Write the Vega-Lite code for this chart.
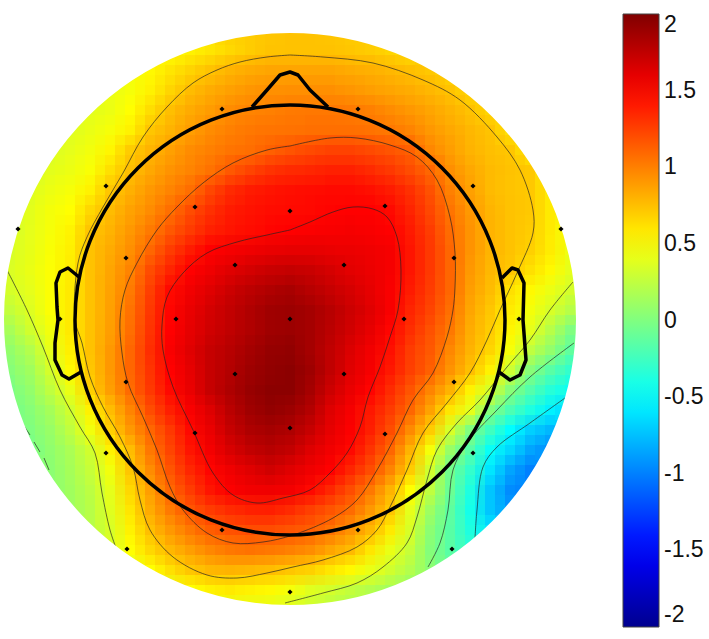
{"$schema":"https://vega.github.io/schema/vega-lite/v6.json","width":709,"height":639,"padding":0,"autosize":{"type":"none"},"background":"white","view":{"stroke":null},
"datasets":{
"cells":[
{"x":230,"y":30,"v":0.68},{"x":250,"y":30,"v":0.7},{"x":270,"y":30,"v":0.72},{"x":290,"y":30,"v":0.73},{"x":310,"y":30,"v":0.73},{"x":330,"y":30,"v":0.72},{"x":350,"y":30,"v":0.7},
{"x":170,"y":50,"v":0.5},{"x":190,"y":50,"v":0.55},{"x":210,"y":50,"v":0.6},{"x":230,"y":50,"v":0.65},{"x":250,"y":50,"v":0.7},{"x":270,"y":50,"v":0.73},{"x":290,"y":50,"v":0.74},{"x":310,"y":50,"v":0.74},{"x":330,"y":50,"v":0.74},{"x":350,"y":50,"v":0.72},{"x":370,"y":50,"v":0.7},{"x":390,"y":50,"v":0.66},{"x":410,"y":50,"v":0.62},
{"x":130,"y":70,"v":0.46},{"x":150,"y":70,"v":0.52},{"x":170,"y":70,"v":0.6},{"x":190,"y":70,"v":0.67},{"x":210,"y":70,"v":0.73},{"x":230,"y":70,"v":0.79},{"x":250,"y":70,"v":0.83},{"x":270,"y":70,"v":0.85},{"x":290,"y":70,"v":0.85},{"x":310,"y":70,"v":0.85},{"x":330,"y":70,"v":0.85},{"x":350,"y":70,"v":0.83},{"x":370,"y":70,"v":0.81},{"x":390,"y":70,"v":0.78},{"x":410,"y":70,"v":0.75},{"x":430,"y":70,"v":0.71},{"x":450,"y":70,"v":0.66},
{"x":110,"y":90,"v":0.42},{"x":130,"y":90,"v":0.47},{"x":150,"y":90,"v":0.55},{"x":170,"y":90,"v":0.66},{"x":190,"y":90,"v":0.76},{"x":210,"y":90,"v":0.82},{"x":230,"y":90,"v":0.87},{"x":250,"y":90,"v":0.91},{"x":270,"y":90,"v":0.93},{"x":290,"y":90,"v":0.94},{"x":310,"y":90,"v":0.94},{"x":330,"y":90,"v":0.94},{"x":350,"y":90,"v":0.91},{"x":370,"y":90,"v":0.88},{"x":390,"y":90,"v":0.85},{"x":410,"y":90,"v":0.82},{"x":430,"y":90,"v":0.78},{"x":450,"y":90,"v":0.73},{"x":470,"y":90,"v":0.66},
{"x":90,"y":110,"v":0.39},{"x":110,"y":110,"v":0.43},{"x":130,"y":110,"v":0.5},{"x":150,"y":110,"v":0.63},{"x":170,"y":110,"v":0.75},{"x":190,"y":110,"v":0.83},{"x":210,"y":110,"v":0.89},{"x":230,"y":110,"v":0.95},{"x":250,"y":110,"v":0.98},{"x":270,"y":110,"v":1},{"x":290,"y":110,"v":1.02},{"x":310,"y":110,"v":1.03},{"x":330,"y":110,"v":1.03},{"x":350,"y":110,"v":1.02},{"x":370,"y":110,"v":1},{"x":390,"y":110,"v":0.95},{"x":410,"y":110,"v":0.9},{"x":430,"y":110,"v":0.85},{"x":450,"y":110,"v":0.8},{"x":470,"y":110,"v":0.74},{"x":490,"y":110,"v":0.66},
{"x":70,"y":130,"v":0.38},{"x":90,"y":130,"v":0.42},{"x":110,"y":130,"v":0.47},{"x":130,"y":130,"v":0.55},{"x":150,"y":130,"v":0.72},{"x":170,"y":130,"v":0.8},{"x":190,"y":130,"v":0.88},{"x":210,"y":130,"v":0.95},{"x":230,"y":130,"v":1},{"x":250,"y":130,"v":1.03},{"x":270,"y":130,"v":1.04},{"x":290,"y":130,"v":1.05},{"x":310,"y":130,"v":1.06},{"x":330,"y":130,"v":1.06},{"x":350,"y":130,"v":1.06},{"x":370,"y":130,"v":1.05},{"x":390,"y":130,"v":1.03},{"x":410,"y":130,"v":0.98},{"x":430,"y":130,"v":0.9},{"x":450,"y":130,"v":0.84},{"x":470,"y":130,"v":0.78},{"x":490,"y":130,"v":0.73},{"x":510,"y":130,"v":0.62},
{"x":50,"y":150,"v":0.36},{"x":70,"y":150,"v":0.4},{"x":90,"y":150,"v":0.45},{"x":110,"y":150,"v":0.53},{"x":130,"y":150,"v":0.7},{"x":150,"y":150,"v":0.79},{"x":170,"y":150,"v":0.87},{"x":190,"y":150,"v":0.95},{"x":210,"y":150,"v":1},{"x":230,"y":150,"v":1.04},{"x":250,"y":150,"v":1.07},{"x":270,"y":150,"v":1.12},{"x":290,"y":150,"v":1.17},{"x":310,"y":150,"v":1.21},{"x":330,"y":150,"v":1.24},{"x":350,"y":150,"v":1.24},{"x":370,"y":150,"v":1.21},{"x":390,"y":150,"v":1.17},{"x":410,"y":150,"v":1.12},{"x":430,"y":150,"v":0.97},{"x":450,"y":150,"v":0.88},{"x":470,"y":150,"v":0.8},{"x":490,"y":150,"v":0.75},{"x":510,"y":150,"v":0.72},{"x":530,"y":150,"v":0.6},
{"x":30,"y":170,"v":0.34},{"x":50,"y":170,"v":0.39},{"x":70,"y":170,"v":0.43},{"x":90,"y":170,"v":0.48},{"x":110,"y":170,"v":0.62},{"x":130,"y":170,"v":0.75},{"x":150,"y":170,"v":0.84},{"x":170,"y":170,"v":0.92},{"x":190,"y":170,"v":0.98},{"x":210,"y":170,"v":1.05},{"x":230,"y":170,"v":1.15},{"x":250,"y":170,"v":1.23},{"x":270,"y":170,"v":1.3},{"x":290,"y":170,"v":1.33},{"x":310,"y":170,"v":1.35},{"x":330,"y":170,"v":1.37},{"x":350,"y":170,"v":1.37},{"x":370,"y":170,"v":1.33},{"x":390,"y":170,"v":1.28},{"x":410,"y":170,"v":1.2},{"x":430,"y":170,"v":1.1},{"x":450,"y":170,"v":0.94},{"x":470,"y":170,"v":0.84},{"x":490,"y":170,"v":0.77},{"x":510,"y":170,"v":0.74},{"x":530,"y":170,"v":0.71},{"x":550,"y":170,"v":0.56},
{"x":30,"y":190,"v":0.37},{"x":50,"y":190,"v":0.43},{"x":70,"y":190,"v":0.47},{"x":90,"y":190,"v":0.55},{"x":110,"y":190,"v":0.72},{"x":130,"y":190,"v":0.81},{"x":150,"y":190,"v":0.9},{"x":170,"y":190,"v":0.98},{"x":190,"y":190,"v":1.07},{"x":210,"y":190,"v":1.22},{"x":230,"y":190,"v":1.33},{"x":250,"y":190,"v":1.39},{"x":270,"y":190,"v":1.42},{"x":290,"y":190,"v":1.44},{"x":310,"y":190,"v":1.45},{"x":330,"y":190,"v":1.46},{"x":350,"y":190,"v":1.46},{"x":370,"y":190,"v":1.44},{"x":390,"y":190,"v":1.39},{"x":410,"y":190,"v":1.31},{"x":430,"y":190,"v":1.18},{"x":450,"y":190,"v":1},{"x":470,"y":190,"v":0.87},{"x":490,"y":190,"v":0.77},{"x":510,"y":190,"v":0.73},{"x":530,"y":190,"v":0.71},{"x":550,"y":190,"v":0.58},
{"x":30,"y":210,"v":0.39},{"x":50,"y":210,"v":0.46},{"x":70,"y":210,"v":0.5},{"x":90,"y":210,"v":0.65},{"x":110,"y":210,"v":0.76},{"x":130,"y":210,"v":0.86},{"x":150,"y":210,"v":0.95},{"x":170,"y":210,"v":1.06},{"x":190,"y":210,"v":1.2},{"x":210,"y":210,"v":1.31},{"x":230,"y":210,"v":1.39},{"x":250,"y":210,"v":1.43},{"x":270,"y":210,"v":1.45},{"x":290,"y":210,"v":1.46},{"x":310,"y":210,"v":1.47},{"x":330,"y":210,"v":1.49},{"x":350,"y":210,"v":1.5},{"x":370,"y":210,"v":1.5},{"x":390,"y":210,"v":1.46},{"x":410,"y":210,"v":1.36},{"x":430,"y":210,"v":1.22},{"x":450,"y":210,"v":1.04},{"x":470,"y":210,"v":0.9},{"x":490,"y":210,"v":0.79},{"x":510,"y":210,"v":0.74},{"x":530,"y":210,"v":0.71},{"x":550,"y":210,"v":0.58},
{"x":10,"y":230,"v":0.33},{"x":30,"y":230,"v":0.4},{"x":50,"y":230,"v":0.47},{"x":70,"y":230,"v":0.54},{"x":90,"y":230,"v":0.72},{"x":110,"y":230,"v":0.8},{"x":130,"y":230,"v":0.9},{"x":150,"y":230,"v":1.02},{"x":170,"y":230,"v":1.15},{"x":190,"y":230,"v":1.27},{"x":210,"y":230,"v":1.37},{"x":230,"y":230,"v":1.42},{"x":250,"y":230,"v":1.45},{"x":270,"y":230,"v":1.48},{"x":290,"y":230,"v":1.5},{"x":310,"y":230,"v":1.51},{"x":330,"y":230,"v":1.52},{"x":350,"y":230,"v":1.53},{"x":370,"y":230,"v":1.52},{"x":390,"y":230,"v":1.5},{"x":410,"y":230,"v":1.4},{"x":430,"y":230,"v":1.26},{"x":450,"y":230,"v":1.08},{"x":470,"y":230,"v":0.92},{"x":490,"y":230,"v":0.8},{"x":510,"y":230,"v":0.74},{"x":530,"y":230,"v":0.7},{"x":550,"y":230,"v":0.58},{"x":570,"y":230,"v":0.46},
{"x":10,"y":250,"v":0.35},{"x":30,"y":250,"v":0.41},{"x":50,"y":250,"v":0.48},{"x":70,"y":250,"v":0.56},{"x":90,"y":250,"v":0.74},{"x":110,"y":250,"v":0.83},{"x":130,"y":250,"v":0.94},{"x":150,"y":250,"v":1.1},{"x":170,"y":250,"v":1.26},{"x":190,"y":250,"v":1.39},{"x":210,"y":250,"v":1.5},{"x":230,"y":250,"v":1.53},{"x":250,"y":250,"v":1.56},{"x":270,"y":250,"v":1.58},{"x":290,"y":250,"v":1.59},{"x":310,"y":250,"v":1.59},{"x":330,"y":250,"v":1.58},{"x":350,"y":250,"v":1.57},{"x":370,"y":250,"v":1.56},{"x":390,"y":250,"v":1.53},{"x":410,"y":250,"v":1.42},{"x":430,"y":250,"v":1.28},{"x":450,"y":250,"v":1.1},{"x":470,"y":250,"v":0.92},{"x":490,"y":250,"v":0.8},{"x":510,"y":250,"v":0.74},{"x":530,"y":250,"v":0.68},{"x":550,"y":250,"v":0.57},{"x":570,"y":250,"v":0.44},
{"x":10,"y":270,"v":0.36},{"x":30,"y":270,"v":0.42},{"x":50,"y":270,"v":0.49},{"x":70,"y":270,"v":0.57},{"x":90,"y":270,"v":0.74},{"x":110,"y":270,"v":0.85},{"x":130,"y":270,"v":0.98},{"x":150,"y":270,"v":1.2},{"x":170,"y":270,"v":1.36},{"x":190,"y":270,"v":1.5},{"x":210,"y":270,"v":1.56},{"x":230,"y":270,"v":1.62},{"x":250,"y":270,"v":1.67},{"x":270,"y":270,"v":1.71},{"x":290,"y":270,"v":1.73},{"x":310,"y":270,"v":1.71},{"x":330,"y":270,"v":1.66},{"x":350,"y":270,"v":1.61},{"x":370,"y":270,"v":1.57},{"x":390,"y":270,"v":1.53},{"x":410,"y":270,"v":1.42},{"x":430,"y":270,"v":1.28},{"x":450,"y":270,"v":1.1},{"x":470,"y":270,"v":0.9},{"x":490,"y":270,"v":0.78},{"x":510,"y":270,"v":0.72},{"x":530,"y":270,"v":0.62},{"x":550,"y":270,"v":0.52},{"x":570,"y":270,"v":0.4},
{"x":10,"y":290,"v":0.34},{"x":30,"y":290,"v":0.4},{"x":50,"y":290,"v":0.49},{"x":70,"y":290,"v":0.58},{"x":90,"y":290,"v":0.74},{"x":110,"y":290,"v":0.86},{"x":130,"y":290,"v":1.02},{"x":150,"y":290,"v":1.25},{"x":170,"y":290,"v":1.46},{"x":190,"y":290,"v":1.55},{"x":210,"y":290,"v":1.62},{"x":230,"y":290,"v":1.7},{"x":250,"y":290,"v":1.76},{"x":270,"y":290,"v":1.81},{"x":290,"y":290,"v":1.84},{"x":310,"y":290,"v":1.78},{"x":330,"y":290,"v":1.72},{"x":350,"y":290,"v":1.66},{"x":370,"y":290,"v":1.6},{"x":390,"y":290,"v":1.52},{"x":410,"y":290,"v":1.4},{"x":430,"y":290,"v":1.26},{"x":450,"y":290,"v":1.1},{"x":470,"y":290,"v":0.88},{"x":490,"y":290,"v":0.76},{"x":510,"y":290,"v":0.62},{"x":530,"y":290,"v":0.52},{"x":550,"y":290,"v":0.43},{"x":570,"y":290,"v":0.33},
{"x":10,"y":310,"v":0.27},{"x":30,"y":310,"v":0.37},{"x":50,"y":310,"v":0.49},{"x":70,"y":310,"v":0.58},{"x":90,"y":310,"v":0.74},{"x":110,"y":310,"v":0.87},{"x":130,"y":310,"v":1.05},{"x":150,"y":310,"v":1.28},{"x":170,"y":310,"v":1.48},{"x":190,"y":310,"v":1.58},{"x":210,"y":310,"v":1.67},{"x":230,"y":310,"v":1.74},{"x":250,"y":310,"v":1.81},{"x":270,"y":310,"v":1.87},{"x":290,"y":310,"v":1.89},{"x":310,"y":310,"v":1.85},{"x":330,"y":310,"v":1.78},{"x":350,"y":310,"v":1.7},{"x":370,"y":310,"v":1.62},{"x":390,"y":310,"v":1.52},{"x":410,"y":310,"v":1.36},{"x":430,"y":310,"v":1.23},{"x":450,"y":310,"v":1.07},{"x":470,"y":310,"v":0.85},{"x":490,"y":310,"v":0.72},{"x":510,"y":310,"v":0.57},{"x":530,"y":310,"v":0.46},{"x":550,"y":310,"v":0.35},{"x":570,"y":310,"v":0.22},
{"x":10,"y":330,"v":0.16},{"x":30,"y":330,"v":0.32},{"x":50,"y":330,"v":0.45},{"x":70,"y":330,"v":0.58},{"x":90,"y":330,"v":0.74},{"x":110,"y":330,"v":0.88},{"x":130,"y":330,"v":1.07},{"x":150,"y":330,"v":1.3},{"x":170,"y":330,"v":1.5},{"x":190,"y":330,"v":1.6},{"x":210,"y":330,"v":1.68},{"x":230,"y":330,"v":1.75},{"x":250,"y":330,"v":1.81},{"x":270,"y":330,"v":1.87},{"x":290,"y":330,"v":1.89},{"x":310,"y":330,"v":1.85},{"x":330,"y":330,"v":1.77},{"x":350,"y":330,"v":1.68},{"x":370,"y":330,"v":1.59},{"x":390,"y":330,"v":1.48},{"x":410,"y":330,"v":1.32},{"x":430,"y":330,"v":1.18},{"x":450,"y":330,"v":1.03},{"x":470,"y":330,"v":0.82},{"x":490,"y":330,"v":0.7},{"x":510,"y":330,"v":0.53},{"x":530,"y":330,"v":0.4},{"x":550,"y":330,"v":0.22},{"x":570,"y":330,"v":0},
{"x":10,"y":350,"v":0.08},{"x":30,"y":350,"v":0.2},{"x":50,"y":350,"v":0.4},{"x":70,"y":350,"v":0.56},{"x":90,"y":350,"v":0.74},{"x":110,"y":350,"v":0.9},{"x":130,"y":350,"v":1.1},{"x":150,"y":350,"v":1.32},{"x":170,"y":350,"v":1.52},{"x":190,"y":350,"v":1.62},{"x":210,"y":350,"v":1.72},{"x":230,"y":350,"v":1.78},{"x":250,"y":350,"v":1.85},{"x":270,"y":350,"v":1.91},{"x":290,"y":350,"v":1.93},{"x":310,"y":350,"v":1.85},{"x":330,"y":350,"v":1.75},{"x":350,"y":350,"v":1.64},{"x":370,"y":350,"v":1.55},{"x":390,"y":350,"v":1.44},{"x":410,"y":350,"v":1.27},{"x":430,"y":350,"v":1.15},{"x":450,"y":350,"v":0.97},{"x":470,"y":350,"v":0.8},{"x":490,"y":350,"v":0.66},{"x":510,"y":350,"v":0.47},{"x":530,"y":350,"v":0.25},{"x":550,"y":350,"v":0.08},{"x":570,"y":350,"v":-0.12},
{"x":10,"y":370,"v":0.03},{"x":30,"y":370,"v":0.13},{"x":50,"y":370,"v":0.33},{"x":70,"y":370,"v":0.52},{"x":90,"y":370,"v":0.72},{"x":110,"y":370,"v":0.9},{"x":130,"y":370,"v":1.1},{"x":150,"y":370,"v":1.3},{"x":170,"y":370,"v":1.5},{"x":190,"y":370,"v":1.6},{"x":210,"y":370,"v":1.72},{"x":230,"y":370,"v":1.8},{"x":250,"y":370,"v":1.88},{"x":270,"y":370,"v":1.93},{"x":290,"y":370,"v":1.95},{"x":310,"y":370,"v":1.88},{"x":330,"y":370,"v":1.75},{"x":350,"y":370,"v":1.62},{"x":370,"y":370,"v":1.53},{"x":390,"y":370,"v":1.41},{"x":410,"y":370,"v":1.25},{"x":430,"y":370,"v":1.12},{"x":450,"y":370,"v":0.92},{"x":470,"y":370,"v":0.75},{"x":490,"y":370,"v":0.55},{"x":510,"y":370,"v":0.3},{"x":530,"y":370,"v":0.03},{"x":550,"y":370,"v":-0.15},{"x":570,"y":370,"v":-0.3},
{"x":10,"y":390,"v":-0.02},{"x":30,"y":390,"v":0.08},{"x":50,"y":390,"v":0.25},{"x":70,"y":390,"v":0.42},{"x":90,"y":390,"v":0.68},{"x":110,"y":390,"v":0.88},{"x":130,"y":390,"v":1.08},{"x":150,"y":390,"v":1.28},{"x":170,"y":390,"v":1.47},{"x":190,"y":390,"v":1.58},{"x":210,"y":390,"v":1.72},{"x":230,"y":390,"v":1.82},{"x":250,"y":390,"v":1.9},{"x":270,"y":390,"v":1.95},{"x":290,"y":390,"v":1.95},{"x":310,"y":390,"v":1.85},{"x":330,"y":390,"v":1.7},{"x":350,"y":390,"v":1.58},{"x":370,"y":390,"v":1.49},{"x":390,"y":390,"v":1.33},{"x":410,"y":390,"v":1.17},{"x":430,"y":390,"v":0.98},{"x":450,"y":390,"v":0.8},{"x":470,"y":390,"v":0.55},{"x":490,"y":390,"v":0.35},{"x":510,"y":390,"v":0.03},{"x":530,"y":390,"v":-0.17},{"x":550,"y":390,"v":-0.35},{"x":570,"y":390,"v":-0.45},
{"x":10,"y":410,"v":-0.05},{"x":30,"y":410,"v":0.03},{"x":50,"y":410,"v":0.15},{"x":70,"y":410,"v":0.32},{"x":90,"y":410,"v":0.55},{"x":110,"y":410,"v":0.76},{"x":130,"y":410,"v":0.98},{"x":150,"y":410,"v":1.2},{"x":170,"y":410,"v":1.38},{"x":190,"y":410,"v":1.52},{"x":210,"y":410,"v":1.63},{"x":230,"y":410,"v":1.77},{"x":250,"y":410,"v":1.87},{"x":270,"y":410,"v":1.92},{"x":290,"y":410,"v":1.89},{"x":310,"y":410,"v":1.8},{"x":330,"y":410,"v":1.63},{"x":350,"y":410,"v":1.53},{"x":370,"y":410,"v":1.41},{"x":390,"y":410,"v":1.27},{"x":410,"y":410,"v":1.1},{"x":430,"y":410,"v":0.86},{"x":450,"y":410,"v":0.6},{"x":470,"y":410,"v":0.4},{"x":490,"y":410,"v":0.02},{"x":510,"y":410,"v":-0.2},{"x":530,"y":410,"v":-0.38},{"x":550,"y":410,"v":-0.55},{"x":570,"y":410,"v":-0.65},
{"x":30,"y":430,"v":0},{"x":50,"y":430,"v":0.1},{"x":70,"y":430,"v":0.25},{"x":90,"y":430,"v":0.45},{"x":110,"y":430,"v":0.68},{"x":130,"y":430,"v":0.9},{"x":150,"y":430,"v":1.1},{"x":170,"y":430,"v":1.28},{"x":190,"y":430,"v":1.47},{"x":210,"y":430,"v":1.58},{"x":230,"y":430,"v":1.72},{"x":250,"y":430,"v":1.82},{"x":270,"y":430,"v":1.85},{"x":290,"y":430,"v":1.82},{"x":310,"y":430,"v":1.72},{"x":330,"y":430,"v":1.6},{"x":350,"y":430,"v":1.51},{"x":370,"y":430,"v":1.38},{"x":390,"y":430,"v":1.2},{"x":410,"y":430,"v":0.96},{"x":430,"y":430,"v":0.7},{"x":450,"y":430,"v":0.35},{"x":470,"y":430,"v":0},{"x":490,"y":430,"v":-0.25},{"x":510,"y":430,"v":-0.5},{"x":530,"y":430,"v":-0.68},{"x":550,"y":430,"v":-0.78},
{"x":30,"y":450,"v":-0.03},{"x":50,"y":450,"v":0.07},{"x":70,"y":450,"v":0.17},{"x":90,"y":450,"v":0.32},{"x":110,"y":450,"v":0.55},{"x":130,"y":450,"v":0.76},{"x":150,"y":450,"v":1.03},{"x":170,"y":450,"v":1.23},{"x":190,"y":450,"v":1.42},{"x":210,"y":450,"v":1.54},{"x":230,"y":450,"v":1.65},{"x":250,"y":450,"v":1.74},{"x":270,"y":450,"v":1.78},{"x":290,"y":450,"v":1.74},{"x":310,"y":450,"v":1.63},{"x":330,"y":450,"v":1.55},{"x":350,"y":450,"v":1.47},{"x":370,"y":450,"v":1.3},{"x":390,"y":450,"v":1.1},{"x":410,"y":450,"v":0.8},{"x":430,"y":450,"v":0.47},{"x":450,"y":450,"v":0.1},{"x":470,"y":450,"v":-0.15},{"x":490,"y":450,"v":-0.47},{"x":510,"y":450,"v":-0.65},{"x":530,"y":450,"v":-0.85},{"x":550,"y":450,"v":-0.95},
{"x":50,"y":470,"v":0.05},{"x":70,"y":470,"v":0.15},{"x":90,"y":470,"v":0.28},{"x":110,"y":470,"v":0.45},{"x":130,"y":470,"v":0.72},{"x":150,"y":470,"v":0.95},{"x":170,"y":470,"v":1.17},{"x":190,"y":470,"v":1.35},{"x":210,"y":470,"v":1.48},{"x":230,"y":470,"v":1.56},{"x":250,"y":470,"v":1.62},{"x":270,"y":470,"v":1.68},{"x":290,"y":470,"v":1.62},{"x":310,"y":470,"v":1.56},{"x":330,"y":470,"v":1.5},{"x":350,"y":470,"v":1.36},{"x":370,"y":470,"v":1.2},{"x":390,"y":470,"v":0.98},{"x":410,"y":470,"v":0.7},{"x":430,"y":470,"v":0.32},{"x":450,"y":470,"v":-0.05},{"x":470,"y":470,"v":-0.3},{"x":490,"y":470,"v":-0.6},{"x":510,"y":470,"v":-0.85},{"x":530,"y":470,"v":-1},
{"x":50,"y":490,"v":0.05},{"x":70,"y":490,"v":0.13},{"x":90,"y":490,"v":0.24},{"x":110,"y":490,"v":0.4},{"x":130,"y":490,"v":0.65},{"x":150,"y":490,"v":0.88},{"x":170,"y":490,"v":1.1},{"x":190,"y":490,"v":1.27},{"x":210,"y":490,"v":1.42},{"x":230,"y":490,"v":1.51},{"x":250,"y":490,"v":1.55},{"x":270,"y":490,"v":1.56},{"x":290,"y":490,"v":1.54},{"x":310,"y":490,"v":1.47},{"x":330,"y":490,"v":1.35},{"x":350,"y":490,"v":1.2},{"x":370,"y":490,"v":1.03},{"x":390,"y":490,"v":0.8},{"x":410,"y":490,"v":0.5},{"x":430,"y":490,"v":0.25},{"x":450,"y":490,"v":-0.08},{"x":470,"y":490,"v":-0.38},{"x":490,"y":490,"v":-0.72},{"x":510,"y":490,"v":-0.95},{"x":530,"y":490,"v":-1},
{"x":70,"y":510,"v":0.12},{"x":90,"y":510,"v":0.22},{"x":110,"y":510,"v":0.38},{"x":130,"y":510,"v":0.6},{"x":150,"y":510,"v":0.83},{"x":170,"y":510,"v":1.02},{"x":190,"y":510,"v":1.17},{"x":210,"y":510,"v":1.27},{"x":230,"y":510,"v":1.33},{"x":250,"y":510,"v":1.37},{"x":270,"y":510,"v":1.38},{"x":290,"y":510,"v":1.33},{"x":310,"y":510,"v":1.25},{"x":330,"y":510,"v":1.17},{"x":350,"y":510,"v":1.08},{"x":370,"y":510,"v":0.9},{"x":390,"y":510,"v":0.72},{"x":410,"y":510,"v":0.4},{"x":430,"y":510,"v":0.12},{"x":450,"y":510,"v":-0.13},{"x":470,"y":510,"v":-0.42},{"x":490,"y":510,"v":-0.72},{"x":510,"y":510,"v":-0.9},
{"x":90,"y":530,"v":0.22},{"x":110,"y":530,"v":0.35},{"x":130,"y":530,"v":0.55},{"x":150,"y":530,"v":0.75},{"x":170,"y":530,"v":0.9},{"x":190,"y":530,"v":1.03},{"x":210,"y":530,"v":1.13},{"x":230,"y":530,"v":1.18},{"x":250,"y":530,"v":1.2},{"x":270,"y":530,"v":1.2},{"x":290,"y":530,"v":1.17},{"x":310,"y":530,"v":1.13},{"x":330,"y":530,"v":1.05},{"x":350,"y":530,"v":0.92},{"x":370,"y":530,"v":0.78},{"x":390,"y":530,"v":0.58},{"x":410,"y":530,"v":0.35},{"x":430,"y":530,"v":0.05},{"x":450,"y":530,"v":-0.15},{"x":470,"y":530,"v":-0.38},{"x":490,"y":530,"v":-0.6},
{"x":110,"y":550,"v":0.35},{"x":130,"y":550,"v":0.5},{"x":150,"y":550,"v":0.65},{"x":170,"y":550,"v":0.78},{"x":190,"y":550,"v":0.88},{"x":210,"y":550,"v":0.97},{"x":230,"y":550,"v":1.03},{"x":250,"y":550,"v":1.05},{"x":270,"y":550,"v":1.03},{"x":290,"y":550,"v":1},{"x":310,"y":550,"v":0.95},{"x":330,"y":550,"v":0.85},{"x":350,"y":550,"v":0.77},{"x":370,"y":550,"v":0.6},{"x":390,"y":550,"v":0.42},{"x":410,"y":550,"v":0.28},{"x":430,"y":550,"v":0.02},{"x":450,"y":550,"v":-0.15},{"x":470,"y":550,"v":-0.32},
{"x":130,"y":570,"v":0.4},{"x":150,"y":570,"v":0.5},{"x":170,"y":570,"v":0.62},{"x":190,"y":570,"v":0.72},{"x":210,"y":570,"v":0.78},{"x":230,"y":570,"v":0.8},{"x":250,"y":570,"v":0.78},{"x":270,"y":570,"v":0.76},{"x":290,"y":570,"v":0.72},{"x":310,"y":570,"v":0.68},{"x":330,"y":570,"v":0.6},{"x":350,"y":570,"v":0.52},{"x":370,"y":570,"v":0.42},{"x":390,"y":570,"v":0.32},{"x":410,"y":570,"v":0.2},{"x":430,"y":570,"v":0.05},{"x":450,"y":570,"v":-0.1},
{"x":170,"y":590,"v":0.42},{"x":190,"y":590,"v":0.5},{"x":210,"y":590,"v":0.55},{"x":230,"y":590,"v":0.58},{"x":250,"y":590,"v":0.55},{"x":270,"y":590,"v":0.52},{"x":290,"y":590,"v":0.47},{"x":310,"y":590,"v":0.38},{"x":330,"y":590,"v":0.33},{"x":350,"y":590,"v":0.27},{"x":370,"y":590,"v":0.2},{"x":390,"y":590,"v":0.14},{"x":410,"y":590,"v":0.08},
{"x":230,"y":610,"v":0.42},{"x":250,"y":610,"v":0.4},{"x":270,"y":610,"v":0.38},{"x":290,"y":610,"v":0.33},{"x":310,"y":610,"v":0.28},{"x":330,"y":610,"v":0.22},{"x":350,"y":610,"v":0.18}
],
"contours":[
{"g":"A","i":0,"x":290,"y":230},{"g":"A","i":1,"x":267,"y":235},{"g":"A","i":2,"x":237,"y":242},{"g":"A","i":3,"x":207,"y":253},{"g":"A","i":4,"x":183,"y":273},{"g":"A","i":5,"x":167,"y":297},{"g":"A","i":6,"x":162,"y":325},{"g":"A","i":7,"x":163,"y":350},{"g":"A","i":8,"x":173,"y":387},{"g":"A","i":9,"x":193,"y":430},{"g":"A","i":10,"x":213,"y":473},{"g":"A","i":11,"x":233,"y":495},{"g":"A","i":12,"x":257,"y":503},{"g":"A","i":13,"x":283,"y":498},{"g":"A","i":14,"x":310,"y":490},{"g":"A","i":15,"x":330,"y":473},{"g":"A","i":16,"x":347,"y":453},{"g":"A","i":17,"x":360,"y":427},{"g":"A","i":18,"x":368,"y":397},{"g":"A","i":19,"x":380,"y":367},{"g":"A","i":20,"x":390,"y":337},{"g":"A","i":21,"x":398,"y":310},{"g":"A","i":22,"x":401,"y":270},{"g":"A","i":23,"x":397,"y":237},{"g":"A","i":24,"x":387,"y":217},{"g":"A","i":25,"x":373,"y":209},{"g":"A","i":26,"x":353,"y":207},{"g":"A","i":27,"x":333,"y":212},{"g":"A","i":28,"x":310,"y":222},{"g":"A","i":29,"x":290,"y":230},
{"g":"B","i":0,"x":290,"y":146},{"g":"B","i":1,"x":267,"y":150},{"g":"B","i":2,"x":233,"y":163},{"g":"B","i":3,"x":203,"y":183},{"g":"B","i":4,"x":177,"y":207},{"g":"B","i":5,"x":157,"y":230},{"g":"B","i":6,"x":137,"y":263},{"g":"B","i":7,"x":125,"y":290},{"g":"B","i":8,"x":120,"y":320},{"g":"B","i":9,"x":122,"y":353},{"g":"B","i":10,"x":128,"y":383},{"g":"B","i":11,"x":143,"y":417},{"g":"B","i":12,"x":157,"y":450},{"g":"B","i":13,"x":170,"y":487},{"g":"B","i":14,"x":183,"y":510},{"g":"B","i":15,"x":207,"y":533},{"g":"B","i":16,"x":233,"y":543},{"g":"B","i":17,"x":263,"y":542},{"g":"B","i":18,"x":293,"y":535},{"g":"B","i":19,"x":333,"y":518},{"g":"B","i":20,"x":357,"y":500},{"g":"B","i":21,"x":377,"y":470},{"g":"B","i":22,"x":397,"y":433},{"g":"B","i":23,"x":413,"y":400},{"g":"B","i":24,"x":433,"y":373},{"g":"B","i":25,"x":447,"y":337},{"g":"B","i":26,"x":453,"y":310},{"g":"B","i":27,"x":455,"y":287},{"g":"B","i":28,"x":455,"y":253},{"g":"B","i":29,"x":450,"y":217},{"g":"B","i":30,"x":437,"y":180},{"g":"B","i":31,"x":417,"y":157},{"g":"B","i":32,"x":390,"y":145},{"g":"B","i":33,"x":357,"y":138},{"g":"B","i":34,"x":330,"y":138},{"g":"B","i":35,"x":290,"y":146},
{"g":"C","i":0,"x":290,"y":55},{"g":"C","i":1,"x":267,"y":57},{"g":"C","i":2,"x":240,"y":62},{"g":"C","i":3,"x":217,"y":70},{"g":"C","i":4,"x":193,"y":83},{"g":"C","i":5,"x":167,"y":107},{"g":"C","i":6,"x":143,"y":137},{"g":"C","i":7,"x":123,"y":173},{"g":"C","i":8,"x":103,"y":207},{"g":"C","i":9,"x":87,"y":237},{"g":"C","i":10,"x":78,"y":263},{"g":"C","i":11,"x":75,"y":320},{"g":"C","i":12,"x":82,"y":343},{"g":"C","i":13,"x":90,"y":377},{"g":"C","i":14,"x":103,"y":407},{"g":"C","i":15,"x":120,"y":437},{"g":"C","i":16,"x":133,"y":467},{"g":"C","i":17,"x":140,"y":500},{"g":"C","i":18,"x":150,"y":530},{"g":"C","i":19,"x":173,"y":557},{"g":"C","i":20,"x":207,"y":575},{"g":"C","i":21,"x":237,"y":578},{"g":"C","i":22,"x":267,"y":573},{"g":"C","i":23,"x":293,"y":567},{"g":"C","i":24,"x":323,"y":560},{"g":"C","i":25,"x":357,"y":547},{"g":"C","i":26,"x":377,"y":530},{"g":"C","i":27,"x":390,"y":507},{"g":"C","i":28,"x":407,"y":470},{"g":"C","i":29,"x":423,"y":433},{"g":"C","i":30,"x":447,"y":403},{"g":"C","i":31,"x":470,"y":373},{"g":"C","i":32,"x":487,"y":340},{"g":"C","i":33,"x":500,"y":310},{"g":"C","i":34,"x":517,"y":273},{"g":"C","i":35,"x":533,"y":233},{"g":"C","i":36,"x":533,"y":210},{"g":"C","i":37,"x":520,"y":170},{"g":"C","i":38,"x":497,"y":137},{"g":"C","i":39,"x":460,"y":100},{"g":"C","i":40,"x":423,"y":80},{"g":"C","i":41,"x":373,"y":63},{"g":"C","i":42,"x":323,"y":57},{"g":"C","i":43,"x":290,"y":55},
{"g":"D1","i":0,"x":7,"y":270},{"g":"D1","i":1,"x":27,"y":310},{"g":"D1","i":2,"x":43,"y":347},{"g":"D1","i":3,"x":60,"y":390},{"g":"D1","i":4,"x":80,"y":427},{"g":"D1","i":5,"x":95,"y":453},{"g":"D1","i":6,"x":102,"y":493},{"g":"D1","i":7,"x":110,"y":530},{"g":"D1","i":8,"x":116,"y":548},
{"g":"D2","i":0,"x":285,"y":603},{"g":"D2","i":1,"x":323,"y":593},{"g":"D2","i":2,"x":357,"y":583},{"g":"D2","i":3,"x":383,"y":567},{"g":"D2","i":4,"x":407,"y":543},{"g":"D2","i":5,"x":417,"y":517},{"g":"D2","i":6,"x":427,"y":480},{"g":"D2","i":7,"x":437,"y":450},{"g":"D2","i":8,"x":457,"y":423},{"g":"D2","i":9,"x":480,"y":400},{"g":"D2","i":10,"x":507,"y":367},{"g":"D2","i":11,"x":530,"y":340},{"g":"D2","i":12,"x":550,"y":310},{"g":"D2","i":13,"x":573,"y":282},
{"g":"E","i":0,"x":428,"y":567},{"g":"E","i":1,"x":440,"y":543},{"g":"E","i":2,"x":448,"y":510},{"g":"E","i":3,"x":453,"y":470},{"g":"E","i":4,"x":467,"y":443},{"g":"E","i":5,"x":497,"y":410},{"g":"E","i":6,"x":530,"y":377},{"g":"E","i":7,"x":574,"y":343},
{"g":"F","i":0,"x":475,"y":538},{"g":"F","i":1,"x":477,"y":510},{"g":"F","i":2,"x":483,"y":467},{"g":"F","i":3,"x":497,"y":447},{"g":"F","i":4,"x":530,"y":423},{"g":"F","i":5,"x":565,"y":398},
{"g":"G1","i":0,"x":24,"y":426},{"g":"G1","i":1,"x":30,"y":435},{"g":"G2","i":0,"x":34,"y":442},{"g":"G2","i":1,"x":40,"y":452},{"g":"G3","i":0,"x":44,"y":458},{"g":"G3","i":1,"x":49,"y":470}
],
"outline":[
{"g":"nose","i":0,"x":252,"y":107},{"g":"nose","i":1,"x":267,"y":90},{"g":"nose","i":2,"x":280,"y":75},{"g":"nose","i":3,"x":290,"y":72},{"g":"nose","i":4,"x":298,"y":75},{"g":"nose","i":5,"x":310,"y":90},{"g":"nose","i":6,"x":328,"y":107},
{"g":"earL","i":0,"x":79,"y":277},{"g":"earL","i":1,"x":68,"y":268},{"g":"earL","i":2,"x":60,"y":272},{"g":"earL","i":3,"x":56,"y":283},{"g":"earL","i":4,"x":57,"y":307},{"g":"earL","i":5,"x":58,"y":320},{"g":"earL","i":6,"x":55,"y":343},{"g":"earL","i":7,"x":55,"y":360},{"g":"earL","i":8,"x":62,"y":375},{"g":"earL","i":9,"x":69,"y":379},{"g":"earL","i":10,"x":81,"y":372},
{"g":"earR","i":0,"x":502,"y":278},{"g":"earR","i":1,"x":512,"y":268},{"g":"earR","i":2,"x":518,"y":270},{"g":"earR","i":3,"x":524,"y":283},{"g":"earR","i":4,"x":523,"y":320},{"g":"earR","i":5,"x":526,"y":360},{"g":"earR","i":6,"x":520,"y":375},{"g":"earR","i":7,"x":510,"y":380},{"g":"earR","i":8,"x":499,"y":372}
],
"electrodes":[
{"x":222,"y":109},{"x":358,"y":109},{"x":106,"y":186},{"x":473,"y":186},{"x":18,"y":229},{"x":561,"y":229},{"x":195,"y":207},{"x":290,"y":211},{"x":385,"y":206},{"x":126,"y":258},{"x":454,"y":258},{"x":235,"y":265},{"x":344,"y":265},{"x":60,"y":319},{"x":176,"y":319},{"x":290,"y":319},{"x":404,"y":319},{"x":519,"y":319},{"x":126,"y":382},{"x":454,"y":382},{"x":235,"y":374},{"x":344,"y":374},{"x":195,"y":433},{"x":290,"y":428},{"x":385,"y":434},{"x":106,"y":453},{"x":473,"y":453},{"x":222,"y":530},{"x":358,"y":530},{"x":127,"y":549},{"x":452,"y":549},{"x":290,"y":592}
],
"barTicks":[
{"x":623,"x2":629,"y":90.6},{"x":653,"x2":659,"y":90.6},{"x":623,"x2":629,"y":167},{"x":653,"x2":659,"y":167},{"x":623,"x2":629,"y":244},{"x":653,"x2":659,"y":244},{"x":623,"x2":629,"y":320.5},{"x":653,"x2":659,"y":320.5},{"x":623,"x2":629,"y":397},{"x":653,"x2":659,"y":397},{"x":623,"x2":629,"y":474},{"x":653,"x2":659,"y":474},{"x":623,"x2":629,"y":550},{"x":653,"x2":659,"y":550}
],
"scalpEdge":[{"x":290,"y":319}],
"head":[{"x":290,"y":320}]
},
"encoding":{
"x":{"field":"x","type":"quantitative","scale":{"domain":[0,709],"nice":false,"zero":false},"axis":null},
"y":{"field":"y","type":"quantitative","scale":{"domain":[639,0],"nice":false,"zero":false},"axis":null}
},
"layer":[
{"data":{"name":"cells"},"mark":{"type":"rect","width":20,"height":20,"strokeWidth":0},
"encoding":{"color":{"field":"v","type":"quantitative","scale":{"domain":[-2,-1.5,-0.5,0.5,1.5,2],"range":["#00008f","#0000ff","#00ffff","#ffff00","#ff0000","#800000"],"interpolate":"rgb"},
"legend":{"type":"gradient","orient":"none","legendX":623,"legendY":14,"title":null,"gradientLength":613,"gradientThickness":36,"gradientStrokeColor":"#444","gradientStrokeWidth":1,"values":[-2,-1.5,-1,-0.5,0,0.5,1,1.5,2],"labelExpr":"''+datum.value","labelFont":"Liberation Sans","labelFontSize":23,"labelColor":"#111","labelOffset":5,"labelOverlap":false,"labelBaseline":"middle"}}}},
{"data":{"name":"cells"},"mark":{"type":"rect","width":20,"height":20,"strokeWidth":0,"xOffset":-5,"yOffset":-5},"encoding":{"color":{"field":"v","type":"quantitative","legend":null}}},
{"data":{"name":"cells"},"mark":{"type":"rect","width":20,"height":20,"strokeWidth":0,"xOffset":5,"yOffset":-5,"opacity":0.5},"encoding":{"color":{"field":"v","type":"quantitative","legend":null}}},
{"data":{"name":"cells"},"mark":{"type":"rect","width":20,"height":20,"strokeWidth":0,"xOffset":-5,"yOffset":5,"opacity":0.333},"encoding":{"color":{"field":"v","type":"quantitative","legend":null}}},
{"data":{"name":"cells"},"mark":{"type":"rect","width":20,"height":20,"strokeWidth":0,"xOffset":5,"yOffset":5,"opacity":0.25},"encoding":{"color":{"field":"v","type":"quantitative","legend":null}}},
{"data":{"name":"contours"},"mark":{"type":"line","interpolate":"catmull-rom","stroke":"#222","strokeWidth":0.9,"opacity":0.75},
"encoding":{"detail":{"field":"g","type":"nominal"},"order":{"field":"i","type":"quantitative"}}},
{"data":{"name":"scalpEdge"},"mark":{"type":"point","filled":false,"stroke":"white","strokeWidth":40,"size":374544,"opacity":1},"encoding":{}},
{"data":{"name":"head"},"mark":{"type":"point","filled":false,"stroke":"black","strokeWidth":3.5,"size":184900,"opacity":1},"encoding":{}},
{"data":{"name":"outline"},"mark":{"type":"line","stroke":"black","strokeWidth":3.5,"strokeJoin":"round","interpolate":"linear"},
"encoding":{"detail":{"field":"g","type":"nominal"},"order":{"field":"i","type":"quantitative"}}},
{"data":{"name":"electrodes"},"mark":{"type":"point","shape":"diamond","filled":true,"color":"black","size":26,"opacity":1},"encoding":{}},
{"data":{"name":"barTicks"},"mark":{"type":"rule","stroke":"#222","strokeWidth":1,"opacity":0.6},"encoding":{"x2":{"field":"x2"}}}
]}
